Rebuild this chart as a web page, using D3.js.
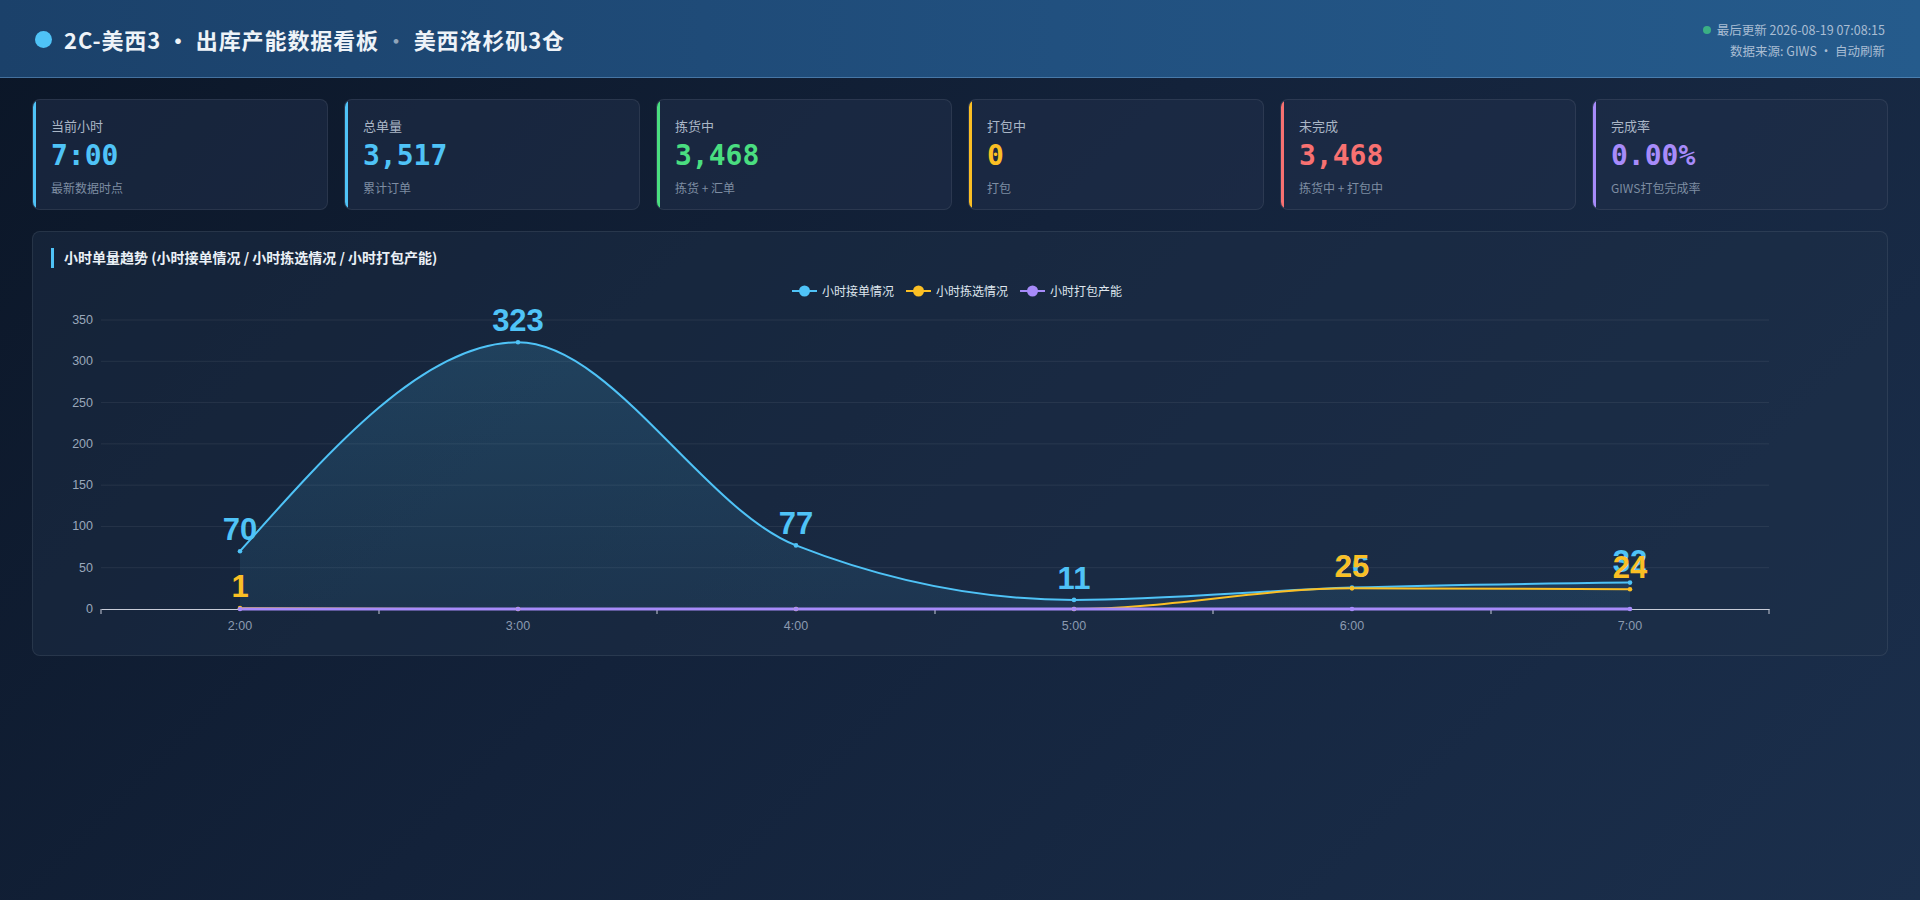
<!DOCTYPE html>
<html><head><meta charset="utf-8">
<script src="https://cdn.jsdelivr.net/npm/d3@7/dist/d3.min.js"></script>
<style>
html,body{margin:0;padding:0;width:1920px;height:900px;overflow:hidden;}
body{background:linear-gradient(135deg,#0b1627 0%,#13223a 45%,#1b2f4c 100%);font-family:"Noto Sans CJK SC","Noto Sans",sans-serif;position:relative;}
#header{position:absolute;left:0;top:0;width:1920px;height:78px;background:linear-gradient(90deg,#1b416a 0%,#21507f 55%,#255b8c 100%);border-bottom:1px solid rgba(120,170,220,0.45);box-sizing:border-box;}
#hdot{position:absolute;left:35px;top:31px;width:17px;height:17px;border-radius:50%;background:#4fc3f7;}
#htitle{position:absolute;left:64px;top:23px;font-size:22px;font-weight:700;color:#eef3f8;letter-spacing:0.9px;line-height:32px;white-space:nowrap;}
#htitle .sep{opacity:0.55;font-weight:400;}
#hright{position:absolute;right:35px;top:19px;text-align:right;font-size:12.5px;color:#a9bdd3;line-height:21px;}
#hright .g{display:inline-block;width:8px;height:8px;border-radius:50%;background:#3fbf84;margin-right:6px;vertical-align:1px;opacity:0.85;}
.card{position:absolute;top:99px;height:111px;width:296px;box-sizing:border-box;background:rgba(32,48,74,0.55);border:1px solid rgba(255,255,255,0.08);border-radius:8px;overflow:hidden;}
.card .bar{position:absolute;left:0;top:0;bottom:0;width:3px;}
.card .lab{position:absolute;left:18px;top:17px;font-size:13px;color:#aab6c6;line-height:18px;}
.card .val{position:absolute;left:18px;top:38px;font-family:"DejaVu Sans Mono",monospace;font-weight:700;font-size:28px;line-height:36px;}
.card .sub{position:absolute;left:18px;top:79px;font-size:12px;color:#7e8da2;line-height:17px;}
#panel{position:absolute;left:32px;top:231px;width:1856px;height:425px;box-sizing:border-box;background:rgba(32,48,74,0.45);border:1px solid rgba(255,255,255,0.08);border-radius:8px;}
#chart{position:absolute;left:32px;top:231px;}
</style></head>
<body>
<div id="header">
  <div id="hdot"></div>
  <div id="htitle">2C-美西3 · 出库产能数据看板 <span class="sep">·</span> 美西洛杉矶3仓</div>
  <div id="hright"><div><span class="g"></span>最后更新 2026-08-19 07:08:15</div><div>数据来源: GIWS · 自动刷新</div></div>
</div>
<div id="cards"></div>
<div id="panel"></div>
<svg id="chart" width="1856" height="425"></svg>
<script>
// ---- data ----
const cardLabels = ["当前小时","总单量","拣货中","打包中","未完成","完成率"];
const cardValues = ["7:00","3,517","3,468","0","3,468","0.00%"];
const cardSubs = ["最新数据时点","累计订单","拣货 + 汇单","打包","拣货中 + 打包中","GIWS打包完成率"];
const cardColors = ["#4fc3f7","#4fc3f7","#4ade80","#fbbf24","#f87171","#a78bfa"];

const hours = ["2:00","3:00","4:00","5:00","6:00","7:00"];
const seriesNames = ["小时接单情况","小时拣选情况","小时打包产能"];
const orders = [70,323,77,11,26,32];
const picking = [1,0,0,0,25,24];
const packing = [0,0,0,0,0,0];
const seriesColors = ["#4fc3f7","#fbbf24","#a78bfa"];
const yTicks = [0,50,100,150,200,250,300,350];

// ---- cards ----
const cards = d3.select("#cards").selectAll("div.card").data(cardLabels).join("div")
  .attr("class","card").style("left",(d,i)=>(32+i*312)+"px");
cards.append("div").attr("class","bar").style("background",(d,i)=>cardColors[i]);
cards.append("div").attr("class","lab").text(d=>d);
cards.append("div").attr("class","val").style("color",(d,i)=>cardColors[i]).text((d,i)=>cardValues[i]);
cards.append("div").attr("class","sub").text((d,i)=>cardSubs[i]);

// ---- chart ----
const svg = d3.select("#chart");
svg.append("rect").attr("x",19).attr("y",17).attr("width",3).attr("height",20).attr("fill","#4fc3f7");
svg.append("text").attr("x",32).attr("y",32).attr("fill","#eaf0f6").attr("font-size",14).attr("font-weight",700)
  .text("小时单量趋势 (小时接单情况 / 小时拣选情况 / 小时打包产能)");

const x = d3.scaleBand().domain(hours).range([69,1737]);
const y = d3.scaleLinear().domain([0,350]).range([378,89]);
const cx = h => x(h)+x.bandwidth()/2;

// grid
svg.append("g").selectAll("line").data(yTicks.slice(1)).join("line")
  .attr("x1",69).attr("x2",1737).attr("y1",d=>y(d)).attr("y2",d=>y(d))
  .attr("stroke","rgba(255,255,255,0.07)");
// y labels
svg.append("g").selectAll("text").data(yTicks).join("text")
  .attr("x",61).attr("y",d=>y(d)+4).attr("text-anchor","end")
  .attr("fill","#9aa8bb").attr("font-size",12.5).attr("font-family","Liberation Sans, Arial, sans-serif").text(d=>d);
// x axis
const xAxis = d3.axisBottom(x).tickSize(0).tickPadding(12);
const gx = svg.append("g").attr("transform","translate(0,378)").call(xAxis);
gx.select(".domain").attr("stroke","#c8ccd8").attr("stroke-width",1);
gx.selectAll("text").attr("fill","#8c9ab0").attr("font-size",12.5).attr("font-family","Liberation Sans, Arial, sans-serif");
const bounds = hours.map(h=>x(h)).concat([x.range()[1]]);
gx.selectAll("line.bt").data(bounds).join("line").attr("class","bt")
  .attr("x1",d=>d).attr("x2",d=>d).attr("y1",0).attr("y2",5).attr("stroke","#c8ccd8");

// area gradient
const defs = svg.append("defs");
const grad = defs.append("linearGradient").attr("id","ag").attr("x1",0).attr("x2",0).attr("y1",0).attr("y2",1);
grad.append("stop").attr("offset","0%").attr("stop-color","#4fc3f7").attr("stop-opacity",0.17);
grad.append("stop").attr("offset","100%").attr("stop-color","#4fc3f7").attr("stop-opacity",0.08);

const curve = d3.curveMonotoneX;
const area = d3.area().x((d,i)=>cx(hours[i])).y0(y(0)).y1(d=>y(d)).curve(curve);
const line = d3.line().x((d,i)=>cx(hours[i])).y(d=>y(d)).curve(curve);
svg.append("path").attr("d",area(orders)).attr("fill","url(#ag)");

const all = [orders,picking,packing];
const widths = [2,2,3];
all.forEach((s,k)=>{
  svg.append("path").attr("d",line(s)).attr("fill","none").attr("stroke",seriesColors[k]).attr("stroke-width",widths[k]);
});
all.forEach((s,k)=>{
  svg.append("g").selectAll("circle").data(s).join("circle")
    .attr("cx",(d,i)=>cx(hours[i])).attr("cy",d=>y(d)).attr("r",2.3).attr("fill",seriesColors[k]);
});
all.forEach((s,k)=>{
  svg.append("g").selectAll("text").data(s.map((v,i)=>({v,i})).filter(d=>d.v!==0)).join("text")
    .attr("x",d=>cx(hours[d.i])).attr("y",d=>y(d.v)-11).attr("text-anchor","middle")
    .attr("fill",seriesColors[k]).attr("font-size",31).attr("font-weight",600)
    .attr("font-family","Liberation Sans, Arial, sans-serif").text(d=>d.v);
});

// legend
const lg = svg.append("g").attr("transform","translate(760,60)");
let lx = 0;
seriesNames.forEach((n,k)=>{
  const g = lg.append("g").attr("transform",`translate(${lx},0)`);
  g.append("line").attr("x1",0).attr("x2",25).attr("y1",0).attr("y2",0).attr("stroke",seriesColors[k]).attr("stroke-width",2);
  g.append("circle").attr("cx",12.5).attr("cy",0).attr("r",5.5).attr("fill",seriesColors[k]);
  const t = g.append("text").attr("x",30).attr("y",4.5).attr("fill","#dfe6ee").attr("font-size",12).text(n);
  lx += 30 + t.node().getComputedTextLength() + 12;
});
</script>
</body></html>
